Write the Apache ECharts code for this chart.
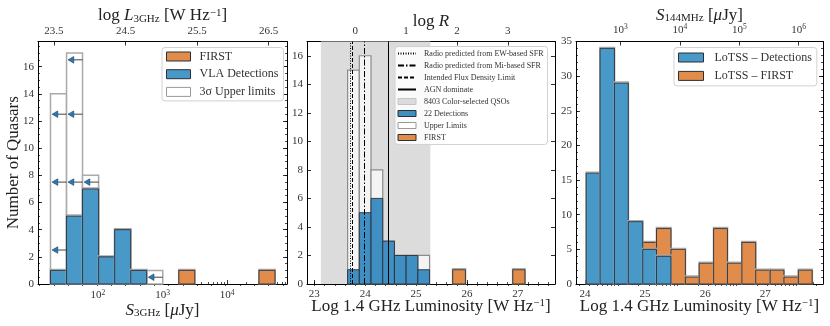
<!DOCTYPE html>
<html>
<head>
<meta charset="utf-8">
<script src="https://cdn.jsdelivr.net/npm/echarts@6/dist/echarts.min.js"></script>
<style>
  html, body { margin: 0; padding: 0; background: #fff; }
  #chart { width: 830px; height: 326px; }
</style>
</head>
<body>
<div id="chart"></div>
<script>
// ---- left panel: VLA 3 GHz (bin edges in log10 S [uJy])
var s3Edges = [1.270, 1.518, 1.765, 2.013, 2.261, 2.509, 2.756, 3.004, 3.252, 3.499, 3.747, 3.995, 4.242, 4.490, 4.738];
var vlaDetections = [1, 5, 7, 2, 4, 1, 0, 0, 0, 0, 0, 0, 0, 0];
var vlaUpperLimits = [13, 12, 1, 0, 0, 0, 1, 0, 0, 0, 0, 0, 0, 0];
var firstS3 = [0, 0, 0, 0, 0, 0, 0, 0, 1, 0, 0, 0, 0, 1];
var arrowBins = [0, 0, 0, 1, 1, 1, 2, 6];
var arrowLevels = [2.5, 7.5, 12.5, 7.5, 12.5, 16.5, 7.5, 0.5];
var s3Ticks = [2, 3, 4];
var lum3Ticks = [23.5, 24.5, 25.5, 26.5];
var count1Ticks = [0, 2, 4, 6, 8, 10, 12, 14, 16];

// ---- middle panel: log 1.4 GHz luminosity
var lumEdges = [23.655, 23.885, 24.115, 24.345, 24.575, 24.805, 25.035, 25.265];
var detections22 = [1, 5, 6, 3, 2, 2, 1];
var upperLimits = [14, 11, 2, 0, 0, 0, 1];
var firstLumLo = [25.72, 26.90];
var firstLumHi = [25.97, 27.14];
var firstLumN = [1, 1];
var qsoSpan = [23.13, 25.28];
var ewSfrLum = 23.70;
var miSfrLum = 23.975;
var fluxLimitLum = 23.74;
var agnLum = 24.45;
var lumTicks = [23, 24, 25, 26, 27];
var logRTicks = [0, 1, 2, 3];
var count2Ticks = [0, 2, 4, 6, 8, 10, 12, 14, 16];

// ---- right panel: LoTSS
var lotssEdges = [24.02, 24.25, 24.49, 24.72, 24.96, 25.19, 25.43, 25.67, 25.90, 26.14, 26.37, 26.61, 26.84, 27.08, 27.31, 27.55, 27.78];
var lotssDet = [16, 34, 29, 9, 5, 4, 0, 0, 0, 0, 0, 0, 0, 0, 0, 0];
var lotssFirst = [0, 0, 0, 0, 6, 8, 5, 1, 3, 8, 3, 6, 2, 2, 1, 2];
var lotssTicks = [24, 25, 26, 27];
var s144Ticks = [3, 4, 5, 6];
var count3Ticks = [0, 5, 10, 15, 20, 25, 30, 35];

var FONT = 'Liberation Serif';
var BLUE = '#4898c8', ORANGE = '#e18c4b', EDGE = '#2b2f36';

function steps(a, b, st) {
  var out = [];
  for (var v = a; v <= b + 1e-9; v += st) out.push(+v.toFixed(4));
  return out;
}
function logMinor(lo, hi) {
  var out = [];
  for (var n = Math.floor(lo); n <= Math.ceil(hi); n++) {
    for (var k = 2; k <= 9; k++) {
      var v = n + Math.log10(k);
      if (v > lo && v < hi) out.push(v);
    }
  }
  return out;
}
function pow10(v) { return '10{s|' + Math.round(v) + '}'; }
function plain(v) { return String(v); }

var nameRich = {
  i: { fontFamily: FONT, fontSize: 17, fontStyle: 'italic', color: '#222' },
  sub: { fontFamily: FONT, fontSize: 11, color: '#222', verticalAlign: 'bottom', padding: [6, 0, 0, 0] },
  sup: { fontFamily: FONT, fontSize: 11, color: '#222', verticalAlign: 'top', padding: [0, 0, 6, 0] }
};

var xAxes = [], yAxes = [];
function addAxis(list, o) {
  var major = {
    type: 'value', gridIndex: o.grid, position: o.pos, min: o.min, max: o.max,
    splitLine: { show: false },
    axisLine: { show: true, onZero: false, lineStyle: { color: '#000', width: 1 } },
    axisTick: { show: true, inside: true, length: 4, customValues: o.major, lineStyle: { color: '#000', width: 0.8 } },
    axisLabel: o.fmt ? {
      show: true, customValues: o.major, formatter: o.fmt, color: '#333',
      fontFamily: FONT, fontSize: 11, margin: o.margin || 5,
      rich: { s: { fontFamily: FONT, fontSize: 7.5, color: '#333', verticalAlign: 'top', padding: [0, 0, 5, 0] } }
    } : { show: false }
  };
  if (o.name) {
    major.name = o.name;
    major.nameLocation = 'middle';
    major.nameGap = o.nameGap;
    major.nameMoveOverlap = false;
    major.nameRotate = o.nameRotate || 0;
    major.nameTextStyle = { fontFamily: FONT, fontSize: 17, color: '#222', rich: nameRich };
  }
  list.push(major);
  var idx = list.length - 1;
  list.push({
    type: 'value', gridIndex: o.grid, position: o.pos, min: o.min, max: o.max,
    splitLine: { show: false }, axisLine: { show: false }, axisLabel: { show: false },
    axisTick: { show: true, inside: true, length: 2, customValues: o.minor, lineStyle: { color: '#000', width: 0.7 } }
  });
  return idx;
}

// panel 1 axes
var x1 = addAxis(xAxes, { grid: 0, pos: 'bottom', min: 1.077, max: 4.923, major: s3Ticks, minor: logMinor(1.077, 4.923), fmt: pow10,
  name: '{i|S}{sub|3GHz} [{i|μ}Jy]', nameGap: 18 });
addAxis(xAxes, { grid: 0, pos: 'top', min: 23.277, max: 26.756, major: lum3Ticks, minor: steps(23.3, 26.7, 0.2), fmt: function (v) { return v.toFixed(1); },
  name: 'log {i|L}{sub|3GHz} [W Hz{sup|−1}]', nameGap: 17 });
var y1 = addAxis(yAxes, { grid: 0, pos: 'left', min: 0, max: 17.85, major: count1Ticks, minor: steps(0, 17.5, 0.5), fmt: plain, margin: 4,
  name: 'Number of Quasars', nameGap: 16, nameRotate: 90 });
addAxis(yAxes, { grid: 0, pos: 'right', min: 0, max: 17.85, major: count1Ticks, minor: steps(0, 17.5, 0.5) });

// panel 2 axes
var x2 = addAxis(xAxes, { grid: 1, pos: 'bottom', min: 22.857, max: 27.73, major: lumTicks, minor: steps(22.8, 27.6, 0.2).filter(function (v) { return v > 22.857; }), fmt: plain,
  name: 'Log 1.4 GHz Luminosity [W Hz{sup|−1}]', nameGap: 14 });
addAxis(xAxes, { grid: 1, pos: 'top', min: -0.947, max: 3.926, major: logRTicks, minor: steps(-0.8, 3.8, 0.2), fmt: plain,
  name: 'log {i|R}', nameGap: 11 });
var y2 = addAxis(yAxes, { grid: 1, pos: 'left', min: 0, max: 17, major: count2Ticks, minor: steps(0, 17, 0.5), fmt: plain, margin: 4 });
addAxis(yAxes, { grid: 1, pos: 'right', min: 0, max: 17, major: count2Ticks, minor: steps(0, 17, 0.5) });

// panel 3 axes
var x3 = addAxis(xAxes, { grid: 2, pos: 'bottom', min: 23.85, max: 27.96, major: lotssTicks, minor: steps(24, 27.8, 0.2), fmt: plain,
  name: 'Log 1.4 GHz Luminosity [W Hz{sup|−1}]', nameGap: 14 });
addAxis(xAxes, { grid: 2, pos: 'top', min: 2.251, max: 6.409, major: s144Ticks, minor: logMinor(2.251, 6.409), fmt: pow10,
  name: '{i|S}{sub|144MHz} [{i|μ}Jy]', nameGap: 17.5 });
var y3 = addAxis(yAxes, { grid: 2, pos: 'left', min: 0, max: 35, major: count3Ticks, minor: steps(0, 35, 1), fmt: plain, margin: 4 });
addAxis(yAxes, { grid: 2, pos: 'right', min: 0, max: 35, major: count3Ticks, minor: steps(0, 35, 1) });

function binData(edges, counts) {
  return counts.map(function (c, i) { return [edges[i], edges[i + 1], c]; });
}
function histRender(fill, stroke, rim, lw) {
  return function (params, api) {
    var n = api.value(2);
    if (!n) return;
    var p0 = api.coord([api.value(0), 0]);
    var p1 = api.coord([api.value(1), n]);
    var r = { x: p0[0], y: p1[1], width: p1[0] - p0[0], height: p0[1] - p1[1] };
    var kids = [];
    if (rim) kids.push({ type: 'rect', shape: { x: r.x - 0.3, y: r.y - 1.1, width: r.width + 0.6, height: r.height + 1 }, style: { fill: 'none', stroke: rim, lineWidth: 1.2 } });
    kids.push({ type: 'rect', shape: r, style: { fill: fill, stroke: stroke, lineWidth: lw || 0.9 } });
    return { type: 'group', children: kids };
  };
}
function hist(name, xi, yi, data, fill, stroke, rim, z, lw) {
  return {
    type: 'custom', name: name, xAxisIndex: xi, yAxisIndex: yi, silent: true, z: z,
    itemStyle: { color: fill, borderColor: stroke, borderWidth: 1 },
    renderItem: histRender(fill, stroke, rim, lw), data: data
  };
}
function vline(name, value, dash) {
  return {
    type: 'line', name: name, xAxisIndex: x2, yAxisIndex: y2, data: [], symbol: 'none', z: 6,
    itemStyle: { color: '#000' },
    lineStyle: { color: '#000', width: 1, type: dash },
    markLine: { silent: true, symbol: 'none', label: { show: false },
      lineStyle: { color: '#000', width: 1, type: dash }, data: [{ xAxis: value }] }
  };
}

var totals1 = vlaDetections.map(function (d, i) { return d + vlaUpperLimits[i]; });
var totals2 = detections22.map(function (d, i) { return d + upperLimits[i]; });

var series = [
  // panel 1
  hist('3σ Upper limits', x1, y1, binData(s3Edges, totals1), '#ffffff', '#aaaaaa', null, 2, 1.5),
  hist('VLA Detections', x1, y1, binData(s3Edges, vlaDetections), BLUE, EDGE, '#aaaaaa', 3),
  hist('FIRST', x1, y1, binData(s3Edges, firstS3), ORANGE, EDGE, '#aaaaaa', 3),
  {
    type: 'custom', name: 'limits', xAxisIndex: x1, yAxisIndex: y1, silent: true, z: 5,
    data: arrowBins.map(function (b, i) { return [s3Edges[b + 1], arrowLevels[i]]; }),
    renderItem: function (params, api) {
      var p = api.coord([api.value(0), api.value(1)]);
      return { type: 'group', children: [
        { type: 'line', shape: { x1: p[0], y1: p[1], x2: p[0] - 10, y2: p[1] }, style: { stroke: '#444', lineWidth: 1 } },
        { type: 'polygon', shape: { points: [[p[0] - 14.5, p[1]], [p[0] - 8.8, p[1] - 3.3], [p[0] - 8.8, p[1] + 3.3]] },
          style: { fill: '#2a79b3', stroke: '#1d3d5a', lineWidth: 0.6 } }
      ] };
    }
  },
  // panel 2
  {
    type: 'custom', name: '8403 Color-selected QSOs', xAxisIndex: x2, yAxisIndex: y2, silent: true, z: 1,
    itemStyle: { color: '#dcdcdc', borderColor: '#c4c4c4', borderWidth: 1 },
    data: [qsoSpan],
    renderItem: function (params, api) {
      var a = api.coord([api.value(0), 0]), b = api.coord([api.value(1), 0]);
      var cs = params.coordSys;
      return { type: 'rect', shape: { x: a[0], y: cs.y, width: b[0] - a[0], height: cs.height }, style: { fill: '#dcdcdc' } };
    }
  },
  hist('Upper Limits', x2, y2, binData(lumEdges, totals2), '#f4f4f4', '#8c8c8c', null, 2, 1.2),
  hist('22 Detections', x2, y2, binData(lumEdges, detections22), '#3f8fc3', EDGE, null, 3),
  hist('FIRST', x2, y2, firstLumN.map(function (n, i) { return [firstLumLo[i], firstLumHi[i], n]; }), ORANGE, EDGE, '#aaaaaa', 3),
  vline('Radio predicted from EW-based SFR', ewSfrLum, [1, 1.5]),
  vline('Radio predicted from Mi-based SFR', miSfrLum, [6, 2, 1.5, 2]),
  vline('Intended Flux Density Limit', fluxLimitLum, [4, 2]),
  vline('AGN dominate', agnLum, 'solid'),
  // panel 3
  hist('LoTSS – FIRST', x3, y3, binData(lotssEdges, lotssFirst), ORANGE, EDGE, '#aaaaaa', 2),
  hist('LoTSS – Detections', x3, y3, binData(lotssEdges, lotssDet), BLUE, EDGE, '#aaaaaa', 3)
];

var legendBase = {
  orient: 'vertical', selectedMode: false, backgroundColor: 'rgba(255,255,255,0.85)',
  borderColor: '#d2d2d2', borderWidth: 1, borderRadius: 3
};
function patch(name, color, border) {
  return { name: name, icon: 'rect', itemStyle: { color: color, borderColor: border, borderWidth: 1 } };
}
function lineKey(name) {
  return { name: name, itemStyle: { opacity: 0, color: 'rgba(0,0,0,0)', borderWidth: 0 } };
}

var option = {
  animation: false,
  backgroundColor: '#fff',
  grid: [
    { left: 38, top: 41.5, width: 249, height: 242.5 },
    { left: 307, top: 41.5, width: 248, height: 242.5 },
    { left: 576, top: 41.5, width: 247, height: 242.5 }
  ],
  xAxis: xAxes,
  yAxis: yAxes,
  legend: [
    Object.assign({}, legendBase, {
      left: 162, top: 47.5, padding: [2, 5, 2, 4], itemWidth: 24, itemHeight: 9, itemGap: 3.7,
      textStyle: { fontFamily: FONT, fontSize: 12, lineHeight: 14, color: '#333', padding: [0, 0, 0, 4] },
      data: [patch('FIRST', ORANGE, EDGE), patch('VLA Detections', BLUE, EDGE), patch('3σ Upper limits', '#fff', '#999')]
    }),
    Object.assign({}, legendBase, {
      left: 395, top: 46.5, padding: [2, 4, 2, 2], itemWidth: 18, itemHeight: 6, itemGap: 2,
      textStyle: { fontFamily: FONT, fontSize: 8, lineHeight: 10, color: '#333', padding: [0, 0, 0, 3] },
      data: [
        lineKey('Radio predicted from EW-based SFR'),
        lineKey('Radio predicted from Mi-based SFR'),
        lineKey('Intended Flux Density Limit'),
        lineKey('AGN dominate'),
        patch('8403 Color-selected QSOs', '#dcdcdc', '#c4c4c4'),
        patch('22 Detections', '#3f8fc3', EDGE),
        patch('Upper Limits', '#fff', '#999'),
        patch('FIRST', ORANGE, EDGE)
      ]
    }),
    Object.assign({}, legendBase, {
      left: 674, top: 47.5, padding: [3, 5, 3, 4], itemWidth: 25, itemHeight: 9, itemGap: 4.4,
      textStyle: { fontFamily: FONT, fontSize: 12, lineHeight: 14, color: '#333', padding: [0, 0, 0, 6] },
      data: [patch('LoTSS – Detections', BLUE, EDGE), patch('LoTSS – FIRST', ORANGE, EDGE)]
    })
  ],
  series: series
};

var chart = echarts.init(document.getElementById('chart'), null, { renderer: 'canvas' });
chart.setOption(option);
</script>
</body>
</html>
